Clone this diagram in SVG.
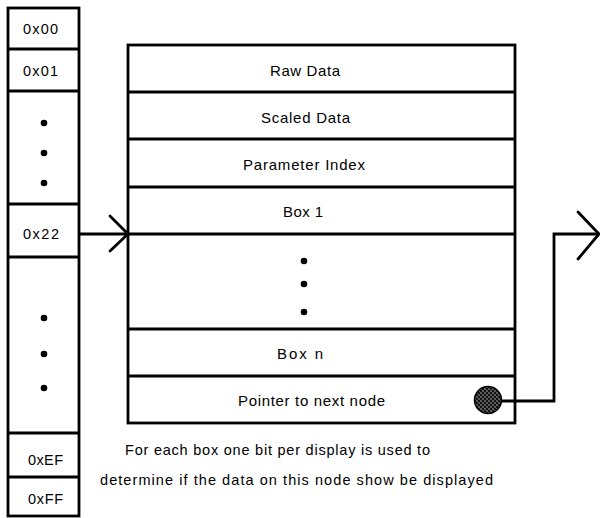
<svg xmlns="http://www.w3.org/2000/svg" width="600" height="518" viewBox="0 0 600 518">
<style>
.box{fill:#fff;stroke:#000;stroke-width:2.8}
.ln{stroke:#000;stroke-width:2.8;fill:none}
.t{font-family:"Liberation Sans",Arial,sans-serif;font-size:15px;fill:#000}
.c{font-family:"Liberation Sans",Arial,sans-serif;font-size:14.5px;fill:#000}
.s{font-family:"Liberation Sans",Arial,sans-serif;font-size:14.5px;fill:#000}
.dot{fill:#000}
</style>
<defs>
<pattern id="stip" width="4" height="4" patternUnits="userSpaceOnUse">
<rect width="4" height="4" fill="#111"/>
<circle cx="1" cy="1" r="0.7" fill="#ddd"/>
<circle cx="3" cy="3" r="0.7" fill="#ddd"/>
</pattern>
</defs>
<g id="memory-table">
<rect class="box" x="8" y="8" width="71" height="508"/>
<line class="ln" x1="8" y1="49" x2="79" y2="49"/>
<line class="ln" x1="8" y1="91" x2="79" y2="91"/>
<line class="ln" x1="8" y1="204" x2="79" y2="204"/>
<line class="ln" x1="8" y1="257" x2="79" y2="257"/>
<line class="ln" x1="8" y1="433" x2="79" y2="433"/>
<line class="ln" x1="8" y1="477" x2="79" y2="477"/>
<text class="s" x="23" y="34" textLength="35" lengthAdjust="spacing">0x00</text>
<text class="s" x="23" y="76" textLength="35" lengthAdjust="spacing">0x01</text>
<circle class="dot" cx="44" cy="123" r="3.3"/>
<circle class="dot" cx="44" cy="153" r="3.3"/>
<circle class="dot" cx="44" cy="183" r="3.3"/>
<text class="s" x="23" y="239" textLength="36" lengthAdjust="spacing">0x22</text>
<circle class="dot" cx="44" cy="318" r="3.3"/>
<circle class="dot" cx="44" cy="354" r="3.3"/>
<circle class="dot" cx="44" cy="388" r="3.3"/>
<text class="s" x="28" y="465" textLength="35" lengthAdjust="spacing">0xEF</text>
<text class="s" x="28" y="504" textLength="35" lengthAdjust="spacing">0xFF</text>
</g>
<g id="node">
<rect class="box" x="128" y="45" width="387" height="378"/>
<line class="ln" x1="128" y1="92" x2="515" y2="92"/>
<line class="ln" x1="128" y1="139" x2="515" y2="139"/>
<line class="ln" x1="128" y1="187" x2="515" y2="187"/>
<line class="ln" x1="128" y1="234" x2="515" y2="234"/>
<line class="ln" x1="128" y1="329" x2="515" y2="329"/>
<line class="ln" x1="128" y1="376" x2="515" y2="376"/>
<text class="t" x="270" y="76" textLength="70" lengthAdjust="spacing">Raw Data</text>
<text class="t" x="261" y="123" textLength="89" lengthAdjust="spacing">Scaled Data</text>
<text class="t" x="243" y="170" textLength="122" lengthAdjust="spacing">Parameter Index</text>
<text class="t" x="283" y="217" textLength="40" lengthAdjust="spacing">Box 1</text>
<circle class="dot" cx="304" cy="261" r="3.3"/>
<circle class="dot" cx="304" cy="284" r="3.3"/>
<circle class="dot" cx="304" cy="312" r="3.3"/>
<text class="t" x="277" y="359" textLength="46" lengthAdjust="spacing">Box n</text>
<text class="t" x="238" y="406" textLength="147" lengthAdjust="spacing">Pointer to next node</text>
<circle cx="488" cy="400" r="13.5" fill="url(#stip)" stroke="#000" stroke-width="1.5"/>
</g>
<g id="caption">
<text class="c" x="125" y="455" textLength="305" lengthAdjust="spacing">For each box one bit per display is used to</text>
<text class="c" x="100" y="485" textLength="393" lengthAdjust="spacing">determine if the data on this node show be displayed</text>
</g>
<g id="connectors">
<polyline class="ln" points="79,234 128,234"/>
<polyline class="ln" points="110,216 128,234 110,251" stroke-linecap="round"/>
<polyline class="ln" points="501,401 554,401 554,234 599,234"/>
<polyline class="ln" points="578,212 599,234 578,259" stroke-linecap="round"/>
</g>
</svg>
